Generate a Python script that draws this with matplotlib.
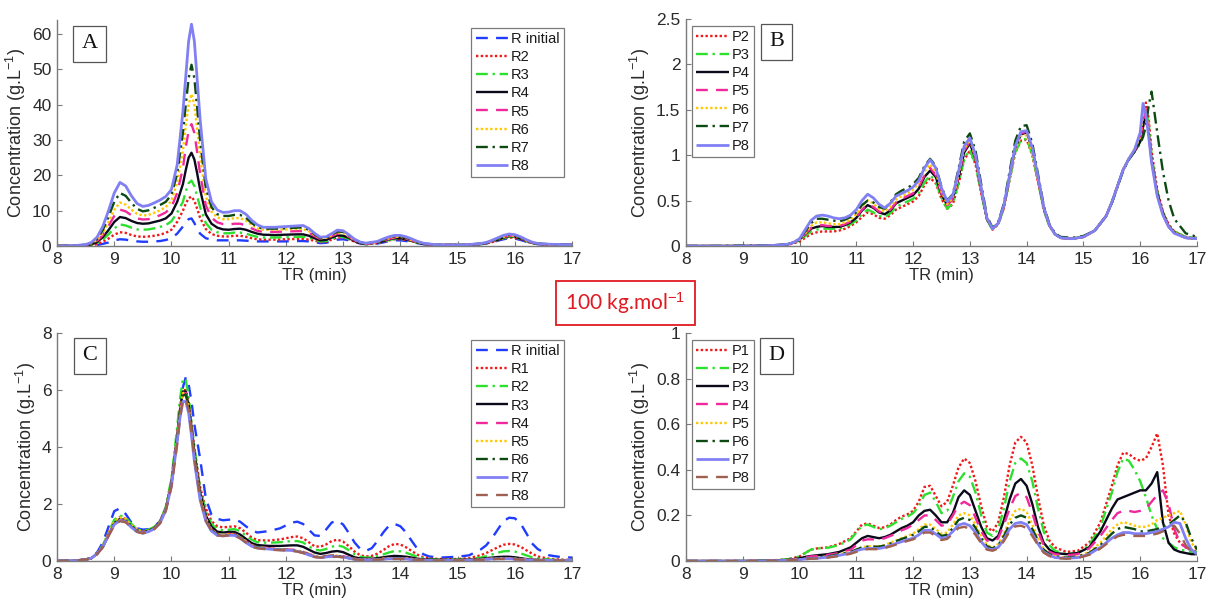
import matplotlib
matplotlib.use("Agg")
import matplotlib.pyplot as plt
from matplotlib.ticker import FuncFormatter

plt.rcParams['font.family'] = ['Liberation Sans', 'DejaVu Sans']
plt.rcParams['mathtext.fontset'] = 'custom'
plt.rcParams['mathtext.rm'] = 'Liberation Sans'
plt.rcParams['mathtext.it'] = 'Liberation Sans:italic'

# ---------------- Panel A data ----------------
xa = [8.0, 8.3, 8.5, 8.6, 8.7, 8.8, 8.9, 9.0, 9.1, 9.2,
      9.3, 9.4, 9.5, 9.6, 9.7, 9.8, 9.9, 10.0, 10.1, 10.2,
      10.25, 10.3, 10.35, 10.4, 10.45, 10.5, 10.6, 10.7, 10.8, 10.9,
      11.0, 11.1, 11.2, 11.3, 11.4, 11.5, 11.6, 11.8, 12.0, 12.2,
      12.3, 12.4, 12.5, 12.6, 12.7, 12.8, 12.9, 13.0, 13.1, 13.2,
      13.3, 13.4, 13.6, 13.7, 13.8, 13.9, 14.0, 14.1, 14.2, 14.3,
      14.4, 14.6, 14.8, 15.0, 15.2, 15.4, 15.5, 15.6, 15.7, 15.8,
      15.9, 16.0, 16.1, 16.2, 16.3, 16.4, 16.6, 16.8, 17.0]
a_rinit = [0, 0.02, 0.05, 0.1, 0.25, 0.6, 1.0, 1.6, 1.9, 1.8,
           1.5, 1.3, 1.2, 1.2, 1.3, 1.4, 1.7, 2.2, 3.5, 5.5,
           6.8, 7.6, 7.8, 6.5, 4.8, 3.5, 2.2, 1.8, 1.6, 1.6,
           1.6, 1.6, 1.6, 1.5, 1.4, 1.3, 1.3, 1.3, 1.3, 1.4,
           1.4, 1.3, 1.1, 0.8, 0.9, 1.3, 1.8, 1.9, 1.6, 1.1,
           0.7, 0.5, 0.7, 1.0, 1.4, 1.6, 1.6, 1.4, 1.1, 0.8,
           0.5, 0.3, 0.2, 0.2, 0.3, 0.5, 0.7, 1.0, 1.5, 1.9,
           2.2, 2.1, 1.7, 1.2, 0.8, 0.5, 0.4, 0.3, 0.3]
a_r2 = [0, 0.03, 0.1, 0.2, 0.5, 1.2, 2.1, 3.2, 3.9, 3.7,
        3.1, 2.7, 2.6, 2.7, 2.9, 3.2, 3.7, 4.6, 6.8, 10,
        12, 13.5, 14, 12.8, 10.5, 8, 4.8, 3.4, 2.9, 2.7,
        2.7, 2.9, 2.9, 2.6, 2.2, 1.9, 1.8, 1.8, 1.9, 2.0,
        2.0, 1.8, 1.5, 1.1, 1.2, 1.8, 2.4, 2.4, 1.9, 1.2,
        0.7, 0.5, 0.8, 1.2, 1.6, 1.9, 1.9, 1.7, 1.3, 0.9,
        0.6, 0.3, 0.3, 0.3, 0.3, 0.5, 0.7, 1.1, 1.6, 2.1,
        2.4, 2.3, 1.9, 1.3, 0.8, 0.6, 0.4, 0.3, 0.3]
a_r3 = [0, 0.05, 0.15, 0.35, 0.8, 1.8, 3.3, 5.0, 6.1, 5.8,
        5.2, 4.7, 4.6, 4.7, 5.0, 5.4, 5.9, 7, 9.5, 12.5,
        15.5, 17.8, 18.5, 17, 14, 11, 6.5, 4.6, 3.9, 3.6,
        3.6, 3.8, 3.8, 3.5, 3.0, 2.6, 2.4, 2.4, 2.5, 2.6,
        2.6, 2.3, 1.8, 1.3, 1.4, 2.0, 2.6, 2.6, 2.0, 1.3,
        0.8, 0.5, 0.9, 1.3, 1.7, 2.0, 2.0, 1.8, 1.4, 0.9,
        0.6, 0.3, 0.3, 0.3, 0.3, 0.5, 0.8, 1.2, 1.7, 2.2,
        2.6, 2.5, 2.0, 1.4, 0.9, 0.6, 0.4, 0.3, 0.3]
a_r4 = [0, 0.05, 0.2, 0.45, 1.1, 2.5, 4.5, 6.8, 8.2, 7.9,
        7.1, 6.5, 6.3, 6.4, 6.8, 7.2, 7.8, 9.2, 12.5, 17.5,
        21.5, 25, 26.4, 24.5, 20.5, 16, 9, 6.3, 5.2, 4.7,
        4.6, 4.8, 4.9, 4.6, 4.0, 3.5, 3.2, 3.1, 3.2, 3.3,
        3.3, 2.9, 2.2, 1.6, 1.7, 2.4, 3.0, 2.9, 2.3, 1.4,
        0.8, 0.6, 1.0, 1.4, 1.9, 2.2, 2.2, 1.9, 1.5, 1.0,
        0.6, 0.3, 0.3, 0.3, 0.3, 0.6, 0.8, 1.3, 1.8, 2.4,
        2.8, 2.7, 2.1, 1.5, 0.9, 0.6, 0.4, 0.4, 0.3]
a_r5 = [0, 0.1, 0.25, 0.6, 1.4, 3.1, 5.7, 8.5, 10.3, 9.8,
        8.7, 7.8, 7.5, 7.6, 8.1, 8.7, 9.5, 11, 15, 22,
        28, 32.5, 34.5, 32, 26.5, 20.5, 11.5, 8, 6.7, 6.2,
        6.1, 6.3, 6.3, 5.8, 5.0, 4.3, 4.0, 4.0, 4.1, 4.2,
        4.2, 3.7, 2.8, 2.0, 2.1, 2.8, 3.5, 3.4, 2.6, 1.6,
        0.9, 0.6, 1.0, 1.5, 2.0, 2.4, 2.4, 2.1, 1.6, 1.0,
        0.6, 0.3, 0.3, 0.3, 0.4, 0.6, 0.9, 1.3, 1.9, 2.5,
        2.9, 2.8, 2.2, 1.6, 1.0, 0.6, 0.4, 0.4, 0.4]
a_r6 = [0, 0.1, 0.3, 0.7, 1.7, 3.7, 6.8, 10.2, 12.3, 11.7,
        10.3, 9.1, 8.6, 8.8, 9.4, 10.1, 11, 12.8, 18, 27,
        34, 40, 43, 40, 33, 25.5, 14, 9.7, 8.1, 7.6,
        7.6, 7.9, 7.9, 7.2, 6.0, 5.0, 4.6, 4.6, 4.7, 4.8,
        4.8, 4.2, 3.1, 2.2, 2.3, 3.0, 3.8, 3.7, 2.8, 1.7,
        1.0, 0.7, 1.1, 1.7, 2.2, 2.6, 2.6, 2.3, 1.7, 1.1,
        0.7, 0.4, 0.3, 0.3, 0.4, 0.6, 0.9, 1.4, 2.0, 2.6,
        3.0, 2.9, 2.3, 1.6, 1.0, 0.7, 0.4, 0.4, 0.4]
a_r7 = [0, 0.1, 0.35, 0.8, 2.0, 4.5, 8.3, 12.5, 15, 14.2,
        12.2, 10.5, 9.8, 10.1, 10.8, 11.6, 12.5, 14.5, 20.5, 32,
        40, 47.5, 51.3, 47.5, 39, 30, 16.5, 11, 9, 8.5,
        8.5, 8.8, 8.8, 8, 6.5, 5.4, 4.9, 4.9, 5.0, 5.2,
        5.3, 4.6, 3.3, 2.3, 2.4, 3.2, 4.1, 4.0, 3.0, 1.8,
        1.0, 0.7, 1.2, 1.8, 2.4, 2.8, 2.8, 2.4, 1.8, 1.2,
        0.7, 0.4, 0.3, 0.3, 0.4, 0.7, 0.9, 1.5, 2.1, 2.8,
        3.1, 3.0, 2.4, 1.7, 1.0, 0.7, 0.5, 0.4, 0.4]
a_r8 = [0, 0.1, 0.4, 1.0, 2.5, 5.5, 10, 15, 18, 17,
        14.2, 12, 11.2, 11.5, 12.2, 13, 14, 16, 23, 38,
        48, 58, 62.8, 58, 47, 36, 19, 12.5, 10.2, 9.5,
        9.6, 10, 10, 9, 7.3, 6, 5.3, 5.3, 5.5, 5.7,
        5.8, 5.0, 3.6, 2.5, 2.6, 3.5, 4.5, 4.3, 3.2, 1.9,
        1.1, 0.8, 1.3, 2.0, 2.6, 3.0, 3.0, 2.6, 2.0, 1.3,
        0.8, 0.4, 0.3, 0.3, 0.4, 0.7, 1.0, 1.6, 2.3, 3.0,
        3.4, 3.2, 2.6, 1.8, 1.1, 0.7, 0.5, 0.4, 0.4]
a_labels = ['R initial', 'R2', 'R3', 'R4', 'R5', 'R6', 'R7', 'R8']

# ---------------- Panel B data ----------------
xb = [8.0, 8.5, 9.0, 9.5, 9.8, 9.9, 10.0, 10.1, 10.2, 10.3,
      10.4, 10.5, 10.6, 10.7, 10.8, 10.9, 11.0, 11.1, 11.2, 11.3,
      11.4, 11.5, 11.6, 11.7, 11.8, 11.9, 12.0, 12.1, 12.2, 12.3,
      12.4, 12.5, 12.6, 12.7, 12.8, 12.9, 13.0, 13.1, 13.2, 13.3,
      13.4, 13.5, 13.6, 13.7, 13.8, 13.9, 14.0, 14.1, 14.2, 14.3,
      14.4, 14.5, 14.6, 14.8, 15.0, 15.2, 15.4, 15.5, 15.6, 15.7,
      15.8, 15.9, 16.0, 16.05, 16.1, 16.15, 16.2, 16.3, 16.4, 16.5,
      16.6, 16.8, 17.0]
b_p2 = [0, 0, 0, 0.005, 0.015, 0.03, 0.05, 0.09, 0.13, 0.15,
        0.16, 0.16, 0.16, 0.17, 0.19, 0.22, 0.26, 0.32, 0.37, 0.35,
        0.31, 0.3, 0.34, 0.4, 0.43, 0.46, 0.49, 0.55, 0.67, 0.75,
        0.69, 0.52, 0.41, 0.46, 0.68, 0.95, 1.05, 0.9, 0.58, 0.29,
        0.18, 0.24, 0.42, 0.73, 1.03, 1.16, 1.17, 1.0, 0.7, 0.4,
        0.22, 0.13, 0.09, 0.08, 0.1, 0.17, 0.33, 0.48, 0.66, 0.84,
        0.96, 1.04, 1.15, 1.3, 1.58, 1.4, 1.05, 0.62, 0.38, 0.24,
        0.16, 0.1, 0.09]
b_p3 = [0, 0, 0, 0.005, 0.02, 0.035, 0.06, 0.11, 0.16, 0.18,
        0.19, 0.19, 0.19, 0.19, 0.21, 0.24, 0.28, 0.35, 0.4, 0.37,
        0.33, 0.32, 0.36, 0.43, 0.46, 0.49, 0.52, 0.58, 0.7, 0.78,
        0.71, 0.53, 0.41, 0.47, 0.69, 0.96, 1.06, 0.9, 0.58, 0.29,
        0.18, 0.24, 0.42, 0.73, 1.03, 1.17, 1.18, 1.01, 0.71, 0.4,
        0.22, 0.13, 0.09, 0.08, 0.1, 0.17, 0.33, 0.48, 0.66, 0.84,
        0.96, 1.04, 1.15, 1.32, 1.52, 1.35, 1.0, 0.6, 0.37, 0.23,
        0.16, 0.1, 0.09]
b_p4 = [0, 0, 0, 0.005, 0.02, 0.04, 0.07, 0.13, 0.19, 0.21,
        0.22, 0.21, 0.21, 0.21, 0.23, 0.26, 0.31, 0.39, 0.45, 0.42,
        0.37, 0.35, 0.39, 0.47, 0.5, 0.53, 0.56, 0.63, 0.76, 0.83,
        0.76, 0.57, 0.45, 0.52, 0.75, 1.03, 1.13, 0.96, 0.62, 0.3,
        0.19, 0.25, 0.44, 0.77, 1.08, 1.23, 1.25, 1.07, 0.75, 0.42,
        0.23, 0.13, 0.09, 0.08, 0.1, 0.17, 0.33, 0.48, 0.66, 0.84,
        0.96, 1.04, 1.15, 1.32, 1.45, 1.25, 0.95, 0.58, 0.36, 0.22,
        0.15, 0.09, 0.08]
b_p5 = [0, 0, 0, 0.005, 0.02, 0.04, 0.07, 0.13, 0.2, 0.22,
        0.23, 0.22, 0.22, 0.22, 0.24, 0.27, 0.32, 0.4, 0.46, 0.43,
        0.38, 0.36, 0.4, 0.48, 0.52, 0.55, 0.58, 0.65, 0.78, 0.86,
        0.78, 0.58, 0.45, 0.52, 0.76, 1.05, 1.15, 0.97, 0.62, 0.3,
        0.19, 0.25, 0.44, 0.77, 1.09, 1.24, 1.26, 1.07, 0.75, 0.42,
        0.23, 0.13, 0.09, 0.08, 0.1, 0.17, 0.33, 0.48, 0.66, 0.84,
        0.96, 1.05, 1.17, 1.38, 1.5, 1.28, 0.95, 0.57, 0.35, 0.22,
        0.15, 0.09, 0.08]
b_p6 = [0, 0.005, 0.005, 0.005, 0.02, 0.04, 0.07, 0.14, 0.22, 0.26,
        0.26, 0.25, 0.24, 0.24, 0.26, 0.29, 0.35, 0.44, 0.5, 0.47,
        0.41, 0.38, 0.43, 0.51, 0.55, 0.58, 0.62, 0.69, 0.82, 0.9,
        0.81, 0.6, 0.46, 0.53, 0.78, 1.07, 1.17, 0.98, 0.63, 0.31,
        0.19, 0.25, 0.44, 0.76, 1.07, 1.21, 1.22, 1.04, 0.73, 0.42,
        0.23, 0.13, 0.09, 0.08, 0.1, 0.17, 0.33, 0.48, 0.66, 0.84,
        0.97, 1.07, 1.2, 1.45, 1.5, 1.25, 0.92, 0.55, 0.34, 0.21,
        0.15, 0.09, 0.08]
b_p7 = [0, 0, 0.005, 0.005, 0.02, 0.04, 0.08, 0.16, 0.25, 0.3,
        0.3, 0.29, 0.28, 0.27, 0.29, 0.32, 0.37, 0.45, 0.5, 0.48,
        0.43, 0.41, 0.48, 0.57, 0.61, 0.64, 0.68, 0.75, 0.88, 0.96,
        0.88, 0.65, 0.5, 0.57, 0.85, 1.15, 1.24, 1.05, 0.68, 0.33,
        0.2, 0.26, 0.47, 0.82, 1.16, 1.32, 1.33, 1.13, 0.79, 0.45,
        0.24, 0.14, 0.1, 0.09, 0.11, 0.17, 0.33, 0.47, 0.65, 0.83,
        0.95, 1.04, 1.13, 1.2, 1.32, 1.55, 1.7, 1.25, 0.82, 0.5,
        0.3, 0.14, 0.1]
b_p8 = [0, 0, 0, 0.005, 0.02, 0.04, 0.08, 0.18, 0.28, 0.33,
        0.34, 0.33, 0.31, 0.3, 0.31, 0.34, 0.4, 0.5, 0.57, 0.53,
        0.46, 0.42, 0.47, 0.55, 0.58, 0.61, 0.65, 0.72, 0.86, 0.95,
        0.86, 0.64, 0.49, 0.56, 0.82, 1.1, 1.19, 1.0, 0.64, 0.31,
        0.19, 0.25, 0.45, 0.78, 1.1, 1.26, 1.27, 1.08, 0.76, 0.43,
        0.23, 0.13, 0.09, 0.08, 0.1, 0.17, 0.33, 0.48, 0.66, 0.84,
        0.96, 1.06, 1.25, 1.57, 1.45, 1.2, 0.92, 0.55, 0.34, 0.21,
        0.14, 0.09, 0.08]
b_labels = ['P2', 'P3', 'P4', 'P5', 'P6', 'P7', 'P8']

# ---------------- Panel C data ----------------
xc = [8.0, 8.3, 8.5, 8.6, 8.7, 8.8, 8.9, 9.0, 9.1, 9.2,
      9.3, 9.4, 9.5, 9.6, 9.7, 9.8, 9.9, 10.0, 10.1, 10.15,
      10.2, 10.25, 10.3, 10.35, 10.4, 10.5, 10.6, 10.7, 10.8, 10.9,
      11.0, 11.1, 11.2, 11.3, 11.4, 11.5, 11.7, 11.9, 12.1, 12.2,
      12.3, 12.4, 12.5, 12.6, 12.7, 12.8, 12.9, 13.0, 13.1, 13.2,
      13.3, 13.4, 13.5, 13.6, 13.7, 13.8, 13.9, 14.0, 14.1, 14.2,
      14.3, 14.4, 14.5, 14.7, 15.0, 15.2, 15.4, 15.5, 15.6, 15.7,
      15.8, 15.9, 16.0, 16.1, 16.2, 16.3, 16.4, 16.6, 16.8, 17.0]
c_rinit = [0, 0.01, 0.05, 0.12, 0.3, 0.65, 1.2, 1.75, 1.85, 1.65,
           1.35, 1.15, 1.1, 1.12, 1.2, 1.4, 1.85, 2.75, 4.3, 5.3,
           6.1, 6.45, 6.2, 5.6, 4.8, 3.6, 2.2, 1.62, 1.48, 1.43,
           1.45, 1.46, 1.38, 1.22, 1.08, 1.0, 1.05, 1.15, 1.35, 1.38,
           1.3, 1.1, 0.9, 0.88, 1.1, 1.35, 1.42, 1.28, 0.98, 0.65,
           0.42, 0.36, 0.45, 0.7, 1.0, 1.24, 1.3, 1.22, 1.0, 0.7,
           0.42, 0.24, 0.16, 0.12, 0.15, 0.2, 0.4, 0.55, 0.8, 1.1,
           1.4, 1.52, 1.5, 1.32, 0.98, 0.62, 0.42, 0.2, 0.14, 0.12]
c_r1 = [0, 0.01, 0.05, 0.1, 0.26, 0.53, 0.97, 1.4, 1.55, 1.48,
        1.27, 1.1, 1.04, 1.08, 1.18, 1.38, 1.85, 2.8, 4.45, 5.4,
        6.0, 6.0, 5.55, 4.8, 3.95, 2.6, 1.85, 1.4, 1.22, 1.18,
        1.2, 1.22, 1.15, 1.0, 0.83, 0.73, 0.72, 0.76, 0.84, 0.86,
        0.8, 0.66, 0.52, 0.5, 0.58, 0.7, 0.75, 0.68, 0.52, 0.33,
        0.2, 0.16, 0.18, 0.26, 0.38, 0.52, 0.6, 0.58, 0.48, 0.35,
        0.22, 0.13, 0.09, 0.07, 0.07, 0.1, 0.2, 0.28, 0.38, 0.48,
        0.57, 0.6, 0.58, 0.5, 0.38, 0.26, 0.16, 0.08, 0.05, 0.04]
c_r2 = [0, 0.01, 0.05, 0.1, 0.27, 0.55, 1.0, 1.45, 1.6, 1.52,
        1.3, 1.12, 1.06, 1.1, 1.2, 1.4, 1.9, 2.9, 4.7, 5.7,
        6.4, 6.35, 5.8, 4.9, 4.0, 2.55, 1.75, 1.3, 1.12, 1.08,
        1.1, 1.12, 1.05, 0.9, 0.75, 0.66, 0.64, 0.66, 0.7, 0.7,
        0.65, 0.52, 0.4, 0.37, 0.42, 0.5, 0.55, 0.5, 0.38, 0.24,
        0.15, 0.12, 0.13, 0.17, 0.23, 0.3, 0.35, 0.34, 0.29, 0.22,
        0.15, 0.1, 0.07, 0.05, 0.05, 0.07, 0.12, 0.17, 0.23, 0.29,
        0.34, 0.35, 0.33, 0.27, 0.2, 0.13, 0.09, 0.05, 0.04, 0.03]
c_r3 = [0, 0.01, 0.05, 0.1, 0.25, 0.5, 0.92, 1.33, 1.48, 1.42,
        1.22, 1.06, 1.01, 1.06, 1.16, 1.36, 1.82, 2.75, 4.35, 5.3,
        5.95, 5.95, 5.5, 4.7, 3.8, 2.4, 1.6, 1.2, 1.03, 1.0,
        1.02, 1.02, 0.93, 0.78, 0.63, 0.56, 0.53, 0.53, 0.55, 0.55,
        0.5, 0.4, 0.3, 0.25, 0.28, 0.33, 0.35, 0.31, 0.22, 0.13,
        0.09, 0.08, 0.08, 0.1, 0.13, 0.16, 0.18, 0.17, 0.15, 0.12,
        0.08, 0.06, 0.05, 0.04, 0.04, 0.05, 0.07, 0.1, 0.12, 0.14,
        0.15, 0.15, 0.13, 0.1, 0.07, 0.05, 0.04, 0.03, 0.02, 0.02]
c_r4 = [0, 0.01, 0.05, 0.1, 0.25, 0.5, 0.9, 1.3, 1.45, 1.4,
        1.2, 1.05, 1.0, 1.05, 1.15, 1.35, 1.8, 2.7, 4.3, 5.2,
        5.85, 5.9, 5.45, 4.6, 3.7, 2.3, 1.5, 1.1, 0.95, 0.92,
        0.95, 0.95, 0.85, 0.7, 0.55, 0.5, 0.45, 0.42, 0.4, 0.38,
        0.33, 0.25, 0.18, 0.15, 0.17, 0.2, 0.2, 0.17, 0.12, 0.08,
        0.06, 0.05, 0.05, 0.06, 0.08, 0.1, 0.1, 0.1, 0.09, 0.07,
        0.05, 0.04, 0.03, 0.03, 0.03, 0.04, 0.05, 0.07, 0.09, 0.1,
        0.1, 0.1, 0.09, 0.07, 0.05, 0.04, 0.03, 0.02, 0.02, 0.02]
c_r5 = [0, 0.01, 0.05, 0.1, 0.26, 0.53, 0.95, 1.38, 1.53, 1.47,
        1.25, 1.08, 1.02, 1.06, 1.16, 1.37, 1.82, 2.72, 4.3, 5.25,
        5.9, 5.9, 5.45, 4.6, 3.7, 2.3, 1.5, 1.1, 0.95, 0.92,
        0.94, 0.94, 0.84, 0.69, 0.55, 0.49, 0.44, 0.41, 0.39, 0.37,
        0.32, 0.24, 0.17, 0.14, 0.16, 0.19, 0.19, 0.16, 0.11, 0.08,
        0.05, 0.05, 0.05, 0.06, 0.08, 0.1, 0.1, 0.1, 0.09, 0.07,
        0.05, 0.04, 0.03, 0.03, 0.03, 0.04, 0.05, 0.07, 0.09, 0.1,
        0.1, 0.1, 0.09, 0.07, 0.05, 0.04, 0.03, 0.02, 0.02, 0.02]
c_r6 = [0, 0.01, 0.05, 0.1, 0.25, 0.5, 0.9, 1.3, 1.45, 1.4,
        1.2, 1.05, 1.0, 1.05, 1.15, 1.35, 1.8, 2.7, 4.3, 5.2,
        5.8, 5.85, 5.4, 4.6, 3.7, 2.25, 1.45, 1.08, 0.93, 0.9,
        0.92, 0.92, 0.82, 0.67, 0.53, 0.48, 0.43, 0.4, 0.38, 0.35,
        0.3, 0.22, 0.16, 0.13, 0.15, 0.18, 0.18, 0.15, 0.1, 0.07,
        0.05, 0.04, 0.04, 0.05, 0.07, 0.09, 0.09, 0.09, 0.08, 0.06,
        0.04, 0.03, 0.03, 0.03, 0.03, 0.04, 0.05, 0.06, 0.08, 0.09,
        0.09, 0.09, 0.08, 0.06, 0.05, 0.04, 0.03, 0.02, 0.02, 0.02]
c_r7 = [0, 0.01, 0.05, 0.1, 0.25, 0.5, 0.9, 1.28, 1.42, 1.38,
        1.18, 1.03, 0.98, 1.03, 1.13, 1.33, 1.78, 2.65, 4.2, 5.05,
        5.6, 5.6, 5.2, 4.4, 3.5, 2.15, 1.4, 1.05, 0.9, 0.88,
        0.9, 0.9, 0.8, 0.65, 0.52, 0.46, 0.42, 0.39, 0.37, 0.34,
        0.29, 0.21, 0.15, 0.12, 0.14, 0.16, 0.16, 0.14, 0.1, 0.06,
        0.05, 0.04, 0.04, 0.05, 0.06, 0.08, 0.08, 0.08, 0.07, 0.05,
        0.04, 0.03, 0.02, 0.02, 0.02, 0.03, 0.04, 0.06, 0.07, 0.08,
        0.08, 0.08, 0.07, 0.05, 0.04, 0.03, 0.02, 0.02, 0.02, 0.02]
c_r8 = [0, 0.01, 0.05, 0.1, 0.24, 0.48, 0.88, 1.25, 1.4, 1.36,
        1.18, 1.02, 0.97, 1.02, 1.12, 1.32, 1.75, 2.6, 4.1, 5.0,
        5.65, 5.7, 5.3, 4.5, 3.6, 2.2, 1.42, 1.05, 0.9, 0.88,
        0.9, 0.9, 0.8, 0.65, 0.5, 0.45, 0.4, 0.38, 0.36, 0.33,
        0.28, 0.2, 0.14, 0.12, 0.13, 0.15, 0.15, 0.13, 0.09, 0.06,
        0.04, 0.04, 0.04, 0.05, 0.06, 0.07, 0.07, 0.07, 0.06, 0.05,
        0.04, 0.03, 0.02, 0.02, 0.02, 0.03, 0.04, 0.05, 0.06, 0.07,
        0.07, 0.07, 0.06, 0.05, 0.04, 0.03, 0.02, 0.02, 0.02, 0.02]
c_labels = ['R initial', 'R1', 'R2', 'R3', 'R4', 'R5', 'R6', 'R7', 'R8']

# ---------------- Panel D data ----------------
xd = [8.0, 9.0, 9.5, 9.8, 10.0, 10.1, 10.2, 10.3, 10.5, 10.7,
      10.9, 11.0, 11.1, 11.2, 11.3, 11.4, 11.5, 11.6, 11.7, 11.8,
      11.9, 12.0, 12.1, 12.2, 12.3, 12.4, 12.5, 12.6, 12.7, 12.8,
      12.9, 13.0, 13.1, 13.2, 13.3, 13.4, 13.5, 13.6, 13.7, 13.8,
      13.9, 14.0, 14.1, 14.2, 14.3, 14.4, 14.5, 14.7, 14.9, 15.1,
      15.3, 15.5, 15.6, 15.7, 15.8, 15.9, 16.0, 16.1, 16.2, 16.3,
      16.4, 16.5, 16.6, 16.7, 16.8, 16.9, 17.0]
d_p1 = [0, 0, 0.002, 0.008, 0.02, 0.035, 0.05, 0.055, 0.06, 0.075,
        0.1, 0.13, 0.16, 0.165, 0.155, 0.145, 0.148, 0.16, 0.18, 0.195,
        0.205, 0.22, 0.26, 0.325, 0.33, 0.285, 0.24, 0.26, 0.33, 0.41,
        0.45, 0.43, 0.35, 0.24, 0.15, 0.13, 0.17, 0.28, 0.42, 0.52,
        0.545, 0.52, 0.42, 0.28, 0.16, 0.09, 0.06, 0.04, 0.045, 0.08,
        0.17, 0.33, 0.42, 0.475, 0.47, 0.45, 0.44, 0.45, 0.5, 0.56,
        0.42, 0.2, 0.12, 0.08, 0.06, 0.05, 0.04]
d_p2 = [0, 0, 0.002, 0.008, 0.02, 0.035, 0.05, 0.055, 0.058, 0.07,
        0.095, 0.125, 0.155, 0.16, 0.15, 0.14, 0.143, 0.155, 0.17, 0.185,
        0.195, 0.21, 0.24, 0.29, 0.3, 0.26, 0.21, 0.22, 0.28, 0.35,
        0.385, 0.37, 0.3, 0.2, 0.125, 0.11, 0.14, 0.23, 0.35, 0.43,
        0.45, 0.43, 0.35, 0.23, 0.13, 0.07, 0.045, 0.03, 0.035, 0.07,
        0.15, 0.3, 0.39, 0.45, 0.44, 0.4, 0.35, 0.28, 0.2, 0.14,
        0.1, 0.08, 0.06, 0.05, 0.045, 0.04, 0.04]
d_p3 = [0, 0, 0.002, 0.005, 0.012, 0.018, 0.022, 0.025, 0.03, 0.04,
        0.06, 0.08, 0.1, 0.11, 0.105, 0.1, 0.105, 0.115, 0.13, 0.145,
        0.155, 0.17, 0.2, 0.22, 0.225, 0.2, 0.17, 0.17, 0.21, 0.28,
        0.31, 0.29, 0.22, 0.15, 0.1, 0.09, 0.11, 0.18, 0.27, 0.34,
        0.36, 0.33, 0.25, 0.15, 0.08, 0.05, 0.035, 0.03, 0.035, 0.06,
        0.13, 0.23, 0.27, 0.28, 0.29, 0.3, 0.31, 0.31, 0.34, 0.39,
        0.17, 0.08, 0.05, 0.04, 0.035, 0.03, 0.03]
d_p4 = [0, 0, 0.001, 0.004, 0.01, 0.015, 0.02, 0.022, 0.027, 0.035,
        0.05, 0.07, 0.09, 0.095, 0.095, 0.095, 0.1, 0.11, 0.12, 0.135,
        0.145, 0.16, 0.18, 0.2, 0.2, 0.18, 0.155, 0.16, 0.2, 0.245,
        0.26, 0.245, 0.19, 0.13, 0.09, 0.085, 0.1, 0.16, 0.23, 0.285,
        0.3, 0.28, 0.21, 0.13, 0.07, 0.04, 0.03, 0.025, 0.03, 0.055,
        0.11, 0.18, 0.21, 0.22, 0.22, 0.215, 0.22, 0.23, 0.26, 0.29,
        0.31, 0.25, 0.14, 0.08, 0.06, 0.05, 0.04]
d_p5 = [0, 0, 0.001, 0.003, 0.007, 0.01, 0.012, 0.014, 0.02, 0.03,
        0.04, 0.05, 0.06, 0.065, 0.065, 0.065, 0.07, 0.08, 0.09, 0.1,
        0.11, 0.12, 0.14, 0.16, 0.16, 0.14, 0.12, 0.125, 0.16, 0.2,
        0.21, 0.2, 0.16, 0.11, 0.07, 0.06, 0.075, 0.12, 0.18, 0.22,
        0.23, 0.215, 0.16, 0.1, 0.055, 0.03, 0.02, 0.015, 0.02, 0.04,
        0.08, 0.14, 0.16, 0.17, 0.165, 0.155, 0.15, 0.15, 0.16, 0.18,
        0.19, 0.2, 0.21, 0.22, 0.16, 0.08, 0.05]
d_p6 = [0, 0, 0.001, 0.003, 0.007, 0.01, 0.012, 0.014, 0.02, 0.03,
        0.04, 0.05, 0.06, 0.063, 0.063, 0.063, 0.068, 0.077, 0.087, 0.097,
        0.105, 0.115, 0.13, 0.15, 0.15, 0.13, 0.11, 0.115, 0.145, 0.18,
        0.19, 0.18, 0.145, 0.1, 0.065, 0.055, 0.07, 0.11, 0.16, 0.19,
        0.2, 0.19, 0.14, 0.09, 0.05, 0.03, 0.02, 0.015, 0.02, 0.035,
        0.07, 0.12, 0.14, 0.15, 0.145, 0.14, 0.13, 0.13, 0.135, 0.14,
        0.15, 0.16, 0.18, 0.2, 0.17, 0.1, 0.05]
d_p7 = [0, 0, 0.001, 0.003, 0.006, 0.009, 0.011, 0.012, 0.017, 0.025,
        0.035, 0.045, 0.052, 0.055, 0.055, 0.055, 0.06, 0.068, 0.077, 0.085,
        0.093, 0.1, 0.115, 0.135, 0.135, 0.118, 0.1, 0.105, 0.13, 0.158,
        0.165, 0.155, 0.125, 0.085, 0.055, 0.05, 0.06, 0.095, 0.14, 0.165,
        0.17, 0.16, 0.12, 0.075, 0.04, 0.025, 0.015, 0.012, 0.015, 0.03,
        0.06, 0.1, 0.115, 0.125, 0.125, 0.12, 0.12, 0.12, 0.125, 0.13,
        0.14, 0.15, 0.17, 0.165, 0.1, 0.05, 0.03]
d_p8 = [0, 0, 0.001, 0.003, 0.005, 0.008, 0.01, 0.011, 0.015, 0.022,
        0.032, 0.04, 0.048, 0.052, 0.052, 0.052, 0.057, 0.064, 0.072, 0.08,
        0.088, 0.095, 0.108, 0.125, 0.125, 0.11, 0.092, 0.097, 0.12, 0.145,
        0.15, 0.142, 0.115, 0.078, 0.05, 0.045, 0.055, 0.088, 0.13, 0.152,
        0.155, 0.145, 0.11, 0.07, 0.037, 0.022, 0.013, 0.01, 0.013, 0.027,
        0.055, 0.093, 0.108, 0.115, 0.115, 0.11, 0.11, 0.11, 0.115, 0.12,
        0.13, 0.145, 0.155, 0.12, 0.07, 0.04, 0.03]
d_labels = ['P1', 'P2', 'P3', 'P4', 'P5', 'P6', 'P7', 'P8']

x_ticks = [8, 9, 10, 11, 12, 13, 14, 15, 16, 17]

# ---------------- styles ----------------
ST = {
    'blue':   dict(color='#1f3cff', ls=(0, (5, 3.5)), lw=1.7),
    'red':    dict(color='#f01818', ls=(0, (1, 1)), lw=1.7),
    'green':  dict(color='#2ee02e', ls=(0, (5, 2, 1, 2)), lw=1.7),
    'black':  dict(color='#0a0a1a', ls='-', lw=1.7),
    'pink':   dict(color='#f0289c', ls=(0, (5, 3.5)), lw=1.7),
    'yellow': dict(color='#ffc800', ls=(0, (1, 1)), lw=1.7),
    'dgreen': dict(color='#0d4a12', ls=(0, (5, 2, 1, 2)), lw=1.7),
    'lblue':  dict(color='#8080f4', ls='-', lw=2.0),
    'brown':  dict(color='#a06050', ls=(0, (5, 3.5)), lw=1.7),
}

fig = plt.figure(figsize=(12.13, 6.11), dpi=100)
fig.patch.set_facecolor('white')

axA = fig.add_axes([0.047, 0.5974, 0.4246, 0.3700])
axB = fig.add_axes([0.5655, 0.5974, 0.4213, 0.3715])
axC = fig.add_axes([0.047, 0.0818, 0.4246, 0.3730])
axD = fig.add_axes([0.5655, 0.0818, 0.4213, 0.3730])

panels = [
    (axA, xa, [a_rinit, a_r2, a_r3, a_r4, a_r5, a_r6, a_r7, a_r8], a_labels,
     ['blue', 'red', 'green', 'black', 'pink', 'yellow', 'dgreen', 'lblue'],
     (0, 64), [0, 10, 20, 30, 40, 50, 60], 'A', 'upper right', (0.984, 0.965), (0.064, 0.895)),
    (axB, xb, [b_p2, b_p3, b_p4, b_p5, b_p6, b_p7, b_p8], b_labels,
     ['red', 'green', 'black', 'pink', 'yellow', 'dgreen', 'lblue'],
     (0, 2.5), [0, 0.5, 1, 1.5, 2, 2.5], 'B', 'upper left', (0.012, 0.97), (0.177, 0.9)),
    (axC, xc, [c_rinit, c_r1, c_r2, c_r3, c_r4, c_r5, c_r6, c_r7, c_r8], c_labels,
     ['blue', 'red', 'green', 'black', 'pink', 'yellow', 'dgreen', 'lblue', 'brown'],
     (0, 8), [0, 2, 4, 6, 8], 'C', 'upper right', (0.984, 0.97), (0.064, 0.9)),
    (axD, xd, [d_p1, d_p2, d_p3, d_p4, d_p5, d_p6, d_p7, d_p8], d_labels,
     ['red', 'green', 'black', 'pink', 'yellow', 'dgreen', 'lblue', 'brown'],
     (0, 1), [0, 0.2, 0.4, 0.6, 0.8, 1], 'D', 'upper left', (0.012, 0.97), (0.177, 0.9)),
]

fmt = FuncFormatter(lambda v, p: ('%g' % v))

for ax, xs, series, labels, styles, ylim, yt, tag, lloc, lanchor, tagpos in panels:
    for ys, lab, st in zip(series, labels, styles):
        ax.plot(xs, ys, label=lab, solid_capstyle='butt', dash_capstyle='butt', **ST[st])
    ax.set_xlim(8, 17)
    ax.set_ylim(*ylim)
    ax.set_xticks(x_ticks)
    ax.set_yticks(yt)
    ax.yaxis.set_major_formatter(fmt)
    for s in ['top', 'right']:
        ax.spines[s].set_visible(False)
    for s in ['left', 'bottom']:
        ax.spines[s].set_color('#7a7a7a')
        ax.spines[s].set_linewidth(1.0)
    ax.tick_params(direction='in', length=3.5, width=0.8, color='#7a7a7a',
                   labelsize=12.5, labelcolor='#2a2a2a', pad=4)
    ax.set_xlabel('TR (min)', fontsize=12, color='#2a2a2a', labelpad=1)
    ax.set_ylabel('Concentration (g.L$^{-1}$)', fontsize=13, color='#2a2a2a', labelpad=3)
    leg = ax.legend(loc=lloc, bbox_to_anchor=lanchor, fontsize=10.5, frameon=True,
                    fancybox=False, framealpha=1, edgecolor='#7a7a7a',
                    handlelength=2.2, handletextpad=0.2, borderpad=0.3,
                    labelspacing=0.28, borderaxespad=0)
    leg.get_frame().set_linewidth(0.9)
    for t in leg.get_texts():
        t.set_color('#1a1a1a')
    ax.text(tagpos[0], tagpos[1], tag, transform=ax.transAxes, ha='center', va='center',
            fontsize=16, family='Liberation Serif', color='#111111',
            bbox=dict(boxstyle='square,pad=0.38', facecolor='white', edgecolor='#555555', linewidth=0.9))

fig.text(0.5155, 0.504, '100 kg.mol$^{-1}$', ha='center', va='center', fontsize=15,
         color='#e01a22', family='Lato',
         bbox=dict(boxstyle='square,pad=0.45', facecolor='white', edgecolor='#e01a22', linewidth=1.3))

fig.savefig('out.png', dpi=100, facecolor='white')
